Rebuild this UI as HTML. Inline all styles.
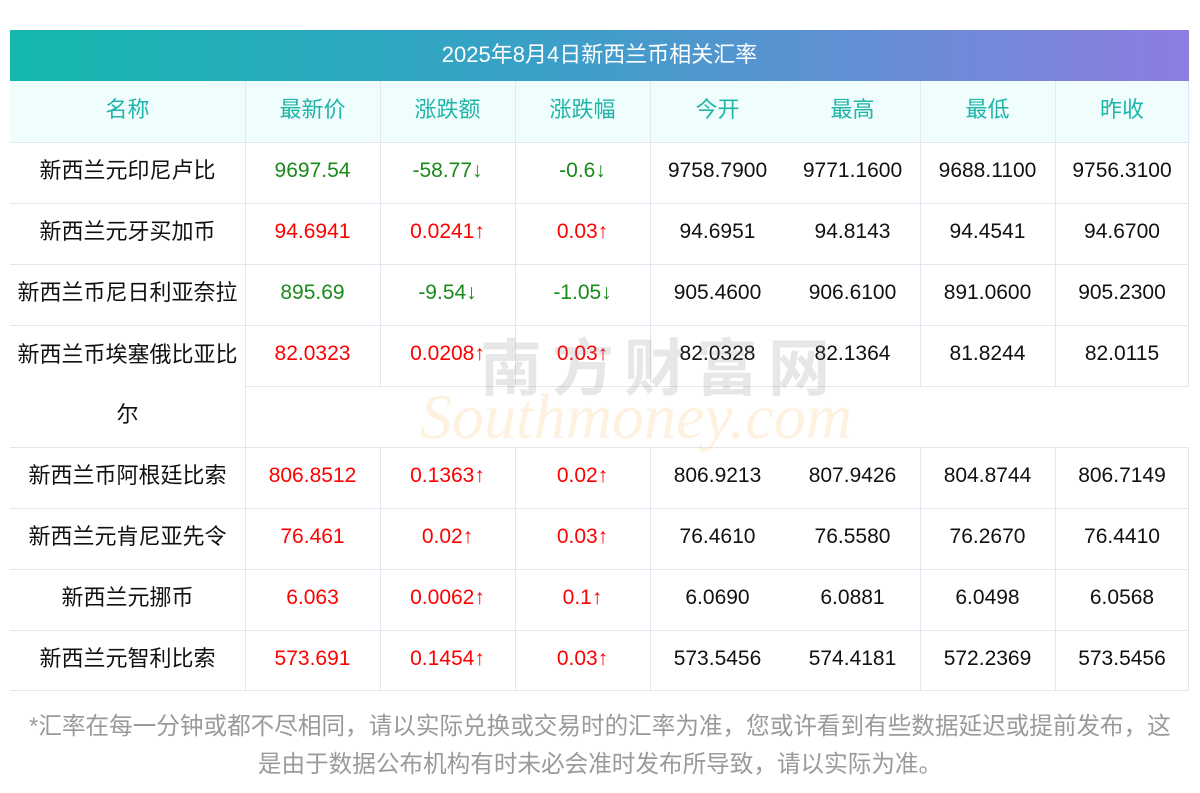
<!DOCTYPE html>
<html><head><meta charset="utf-8">
<style>
body{margin:0;width:1200px;height:793px;background:#fff;position:relative;overflow:hidden;font-family:"Liberation Sans","Noto Sans CJK SC",sans-serif;}
.title{position:absolute;left:10px;top:30px;width:1179px;height:51px;background:linear-gradient(90deg,#14b8ad,#3aa0c8 45%,#8d7de0);color:#fff;font-size:22px;line-height:49px;text-align:center;}
.hdr{position:absolute;left:10px;top:81px;width:1179px;height:61px;background:#f0fdfd;}
.c{position:absolute;height:61px;line-height:58px;text-align:center;font-size:21px;color:#111;white-space:nowrap;}
.h{color:#1fb5a8;font-size:22px;}
.n{font-size:22px;}
.g{color:#1a8a1a;}.r{color:#f00;}
.hl{position:absolute;height:1px;background:#e3e6ef;}
.vl{position:absolute;width:1px;background:#e3e6ef;}
.note{position:absolute;left:0;width:1200px;text-align:center;color:#9a9a9a;font-size:23.6px;}
.wm{position:absolute;pointer-events:none;}
</style></head><body>
<div class="title">2025年8月4日新西兰币相关汇率</div>
<div class="hdr"></div>
<div id="t"></div>
<div class="wm" style="left:480px;top:318px;font-size:62px;font-weight:bold;color:rgba(120,120,120,0.18);letter-spacing:10px;">南方财富网</div>
<div class="wm" style="left:420px;top:380px;font-size:64px;font-style:italic;font-family:'Liberation Serif',serif;color:rgba(250,200,130,0.25);">Southmoney.com</div>
<div class="note" style="top:707px">*汇率在每一分钟或都不尽相同，请以实际兑换或交易时的汇率为准，您或许看到有些数据延迟或提前发布，这</div>
<div class="note" style="top:745px">是由于数据公布机构有时未必会准时发布所导致，请以实际为准。</div>
<script>
const cols=[[10,245],[245,380],[380,515],[515,650],[650,785],[785,920],[920,1055],[1055,1189]];
const heads=["名称","最新价","涨跌额","涨跌幅","今开","最高","最低","昨收"];
const rows=[
["新西兰元印尼卢比","9697.54","-58.77↓","-0.6↓","9758.7900","9771.1600","9688.1100","9756.3100"],
["新西兰元牙买加币","94.6941","0.0241↑","0.03↑","94.6951","94.8143","94.4541","94.6700"],
["新西兰币尼日利亚奈拉","895.69","-9.54↓","-1.05↓","905.4600","906.6100","891.0600","905.2300"],
["新西兰币埃塞俄比亚比尔","82.0323","0.0208↑","0.03↑","82.0328","82.1364","81.8244","82.0115"],
["新西兰币阿根廷比索","806.8512","0.1363↑","0.02↑","806.9213","807.9426","804.8744","806.7149"],
["新西兰元肯尼亚先令","76.461","0.02↑","0.03↑","76.4610","76.5580","76.2670","76.4410"],
["新西兰元挪币","6.063","0.0062↑","0.1↑","6.0690","6.0881","6.0498","6.0568"],
["新西兰元智利比索","573.691","0.1454↑","0.03↑","573.5456","574.4181","572.2369","573.5456"]];
const rowTops=[142,203,264,325,447,508,569,630];
const T=document.getElementById('t');
function cell(x0,x1,y,txt,cls){const d=document.createElement('div');d.className='c '+cls;d.style.left=x0+'px';d.style.width=(x1-x0)+'px';d.style.top=y+'px';d.textContent=txt;T.appendChild(d);return d;}
heads.forEach((h,i)=>{const d=cell(cols[i][0],cols[i][1],81,h,'h');

});
rows.forEach((r,ri)=>{r.forEach((v,ci)=>{let cls=ci===0?'n':'';if(ci>=1&&ci<=3)cls=r[2][0]==='-'?'g':'r';
let d;
if(ci===0&&ri===3){d=cell(cols[0][0],cols[0][1],325,'',cls);d.style.height='122px';d.style.lineHeight='60px';d.innerHTML='新西兰币埃塞俄比亚比<br>尔';}
else d=cell(cols[ci][0],cols[ci][1],rowTops[ri],v,cls);

});});
function hl(x0,x1,y){const d=document.createElement('div');d.className='hl';d.style.left=x0+'px';d.style.width=(x1-x0)+'px';d.style.top=y+'px';T.appendChild(d);

}
function vl(x,y0,y1){const d=document.createElement('div');d.className='vl';d.style.left=x+'px';d.style.top=y0+'px';d.style.height=(y1-y0)+'px';T.appendChild(d);

}
[142,203,264,325,447,508,569,630,690].forEach(y=>hl(10,1189,y));
hl(245,1189,386);
vl(245,81,690);
[380,515,650,920,1055].forEach(x=>{vl(x,81,386);vl(x,447,690);});
vl(1188,81,386);vl(1188,447,690);
</script>
</body></html>
